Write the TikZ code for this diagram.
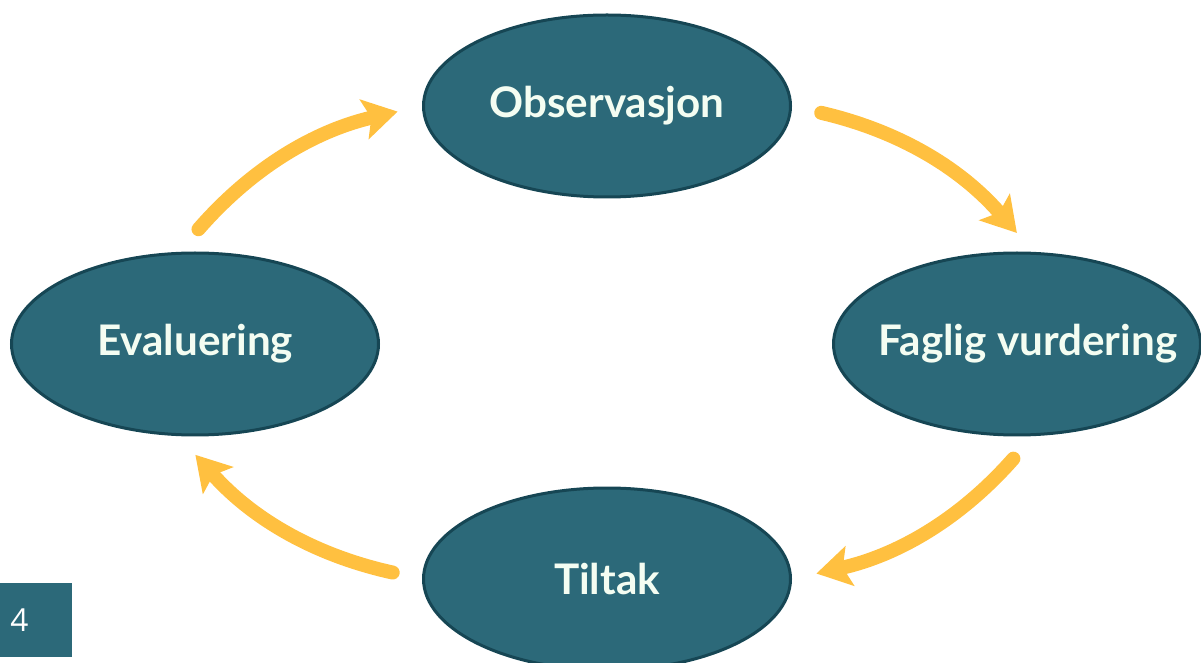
\documentclass[tikz,border=0pt]{standalone}
\usepackage{fontspec}
\setmainfont{Lato}
\newfontfamily\numfont{Open Sans}
\usetikzlibrary{shapes.geometric,arrows.meta}
\definecolor{stageteal}{HTML}{2C6979}
\definecolor{stageedge}{HTML}{164654}
\definecolor{stagetext}{HTML}{F4FDF2}
\definecolor{cyclearrow}{HTML}{FFC040}

\begin{document}
\begin{tikzpicture}[stage/.style={ellipse,draw=stageedge,line width=0.06cm,fill=stageteal,
text=stagetext,font=\fontsize{24}{28}\selectfont\bfseries,minimum width=7.34cm,
minimum height=3.64cm,inner sep=0pt},
cyc/.style={draw=cyclearrow,line width=0.28cm,line cap=round,bend left=18,
-{Stealth[length=0.68cm,width=0.8cm,inset=0.14cm]},shorten <=0.6cm,shorten >=0.5cm}]
\useasboundingbox (0,0) rectangle (24.02,-13.26);

\node[stage] (obs)    at (12.14,-2.12)  {Observasjon};
\node[stage] (fag)    at (20.34,-6.88)  {\makebox[0pt]{\hspace{0.44cm}Faglig vurdering}};
\node[stage] (tiltak) at (12.14,-11.58) {Tiltak};
\node[stage] (eval)   at (3.9,-6.88)    {Evaluering};

\node[anchor=north west,fill=stageteal,text=white,font=\numfont\fontsize{18}{20}\selectfont,
inner xsep=0.2cm,text width=1.04cm,minimum height=1.48cm,align=left] (num) at (0,-11.66) {4};

\draw[cyc] (obs.east) to (fag.80);
\draw[cyc] (fag.280) to (tiltak.east);
\draw[cyc] (tiltak.west) to (eval.260);
\draw[cyc] (eval.100) to (obs.west);
\end{tikzpicture}
\end{document}
